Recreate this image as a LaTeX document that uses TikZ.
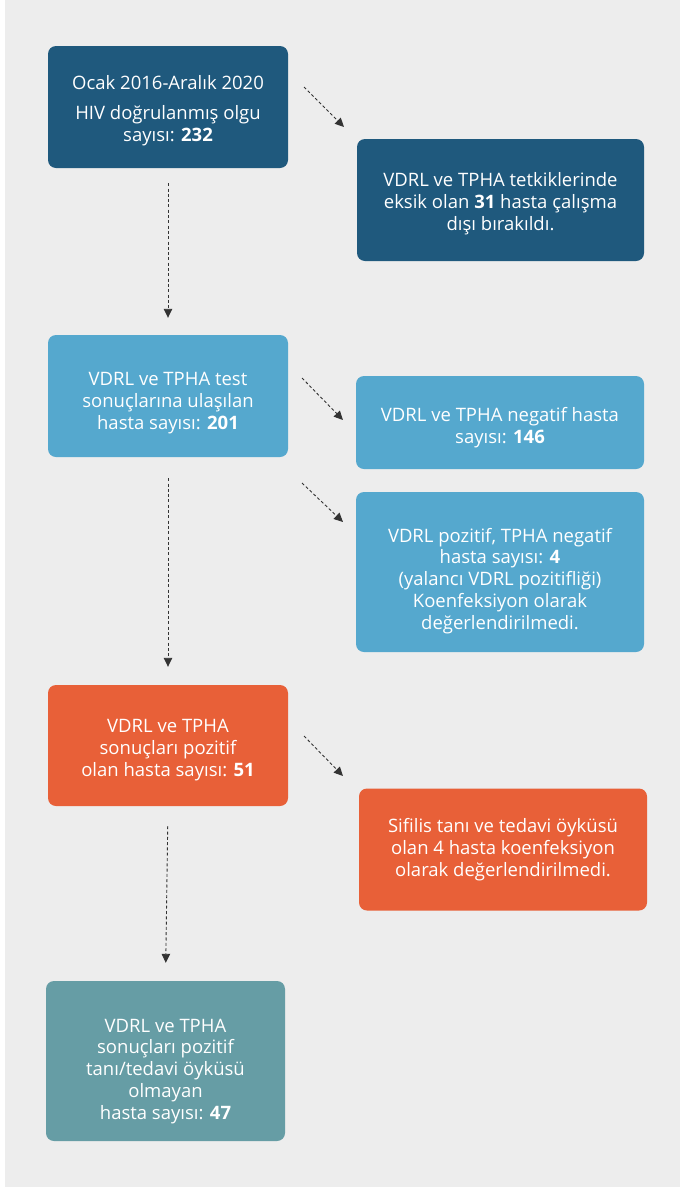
\documentclass[tikz,border=0pt]{standalone}
\usepackage{fontspec}
\setmainfont{Open Sans}
\usetikzlibrary{arrows.meta}
\definecolor{zemin}{HTML}{EDEDED}
\definecolor{koyu}{HTML}{1F597D}
\definecolor{acik}{HTML}{55A8CE}
\definecolor{turuncu}{HTML}{E86038}
\definecolor{yesil}{HTML}{669DA5}
\definecolor{ok}{HTML}{333333}
\newcommand{\ust}[1]{\rule{0pt}{#1pt}}

\begin{document}
\begin{tikzpicture}[x=1pt,y=-1pt,
  kutu/.style={fill=#1, rounded corners=8pt, text=white, align=center,
    inner sep=0pt, font=\fontsize{18.5}{21.8}\selectfont},
  oklu/.style={draw=ok, line width=0.9pt, dash pattern=on 3pt off 2.3pt,
    -{Triangle[length=9pt,width=8.5pt]}}]
\useasboundingbox (0,0) rectangle (680,1189);
\fill[zemin] (5,0) rectangle (680,1187);

\node[kutu=koyu, minimum width=240pt, minimum height=122pt] (k_1) at (168,107)
  {\ust{22}Ocak 2016-Aralık 2020\\[8pt] HIV doğrulanmış olgu\\ sayısı: \textbf{232}};
\node[kutu=koyu, minimum width=287pt, minimum height=122pt] (k_2) at (500.5,200)
  {\ust{22}VDRL ve TPHA tetkiklerinde\\ eksik olan \textbf{31} hasta çalışma\\ dışı bırakıldı.};
\node[kutu=acik, minimum width=240pt, minimum height=122pt] (k_3) at (168,396)
  {\ust{28}VDRL ve TPHA test\\ sonuçlarına ulaşılan\\ hasta sayısı: \textbf{201}};
\node[kutu=acik, minimum width=288pt, minimum height=93pt] (k_4) at (500,422.5)
  {\ust{24}VDRL ve TPHA negatif hasta\\ sayısı: \textbf{146}};
\node[kutu=acik, minimum width=288pt, minimum height=160pt] (k_5) at (500,572)
  {\ust{32}VDRL pozitif, TPHA negatif\\ hasta sayısı: \textbf{4}\\ (yalancı VDRL pozitifliği)\\
   Koenfeksiyon olarak\\ değerlendirilmedi.};
\node[kutu=turuncu, minimum width=240pt, minimum height=121pt] (k_6) at (168,745.5)
  {\ust{22}VDRL ve TPHA\\ sonuçları pozitif\\ olan hasta sayısı: \textbf{51}};
\node[kutu=turuncu, minimum width=288pt, minimum height=122pt] (k_7) at (503,849.5)
  {\ust{15}Sifilis tanı ve tedavi öyküsü\\ olan 4 hasta koenfeksiyon\\ olarak değerlendirilmedi.};
\node[kutu=yesil, minimum width=239pt, minimum height=160pt] (k_8) at (165.5,1061)
  {\ust{34}VDRL ve TPHA\\ sonuçları pozitif\\ tanı/tedavi öyküsü\\ olmayan\\ hasta sayısı: \textbf{47}};

\foreach \i/\j/\a/\b in {1/3/15/17, 3/6/21/18, 6/8/20/18} {
  \draw[oklu, shorten <=\a pt, shorten >=\b pt] (k_\i.south) -- (k_\j.north);
}

\coordinate (s_1) at (304,87);  \coordinate (e_1) at (344,127);
\coordinate (s_2) at (302,378); \coordinate (e_2) at (343,420);
\coordinate (s_3) at (302,483); \coordinate (e_3) at (343,522);
\coordinate (s_4) at (304,736); \coordinate (e_4) at (343,776);
\foreach \i in {1,...,4} {
  \draw[oklu] (s_\i) -- (e_\i);
}
\end{tikzpicture}
\end{document}
